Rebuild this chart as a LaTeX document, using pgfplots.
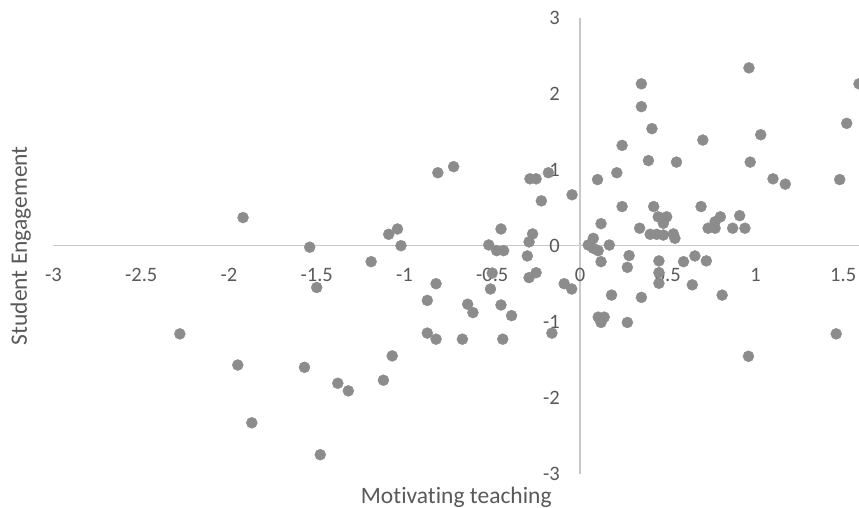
\documentclass[border=0pt]{standalone}
\usepackage{pgfplots}
\pgfplotsset{compat=1.18}
\usepackage{fontspec}
\setmainfont{Carlito}[Ligatures=NoCommon]
\definecolor{axisgray}{RGB}{200,200,200}
\definecolor{txtgray}{RGB}{89,89,89}
\definecolor{markgray}{RGB}{140,140,140}
\begin{document}
\begin{tikzpicture}
\begin{axis}[
  scale only axis,
  width=805.5pt, height=456pt,
  xmin=-3, xmax=1.59, ymin=-3, ymax=3,
  axis lines=middle,
  axis line style={draw=axisgray, line width=1.2pt, -},
  xtick={-3,-2.5,-2,-1.5,-1,-0.5,0,0.5,1,1.5},
  ytick={-3,-2,-1,0,1,2,3},
  major tick length=0pt,
  hide obscured x ticks=false, hide obscured y ticks=false,
  /pgf/number format/assume math mode=true,
  tick label style={font=\fontsize{20.5}{24}\selectfont, text=txtgray},
  xticklabel style={anchor=north, inner sep=0pt, yshift=-22.5pt},
  yticklabel style={anchor=east, inner sep=0pt, xshift=-20pt},
  xlabel={Motivating teaching},
  ylabel={Student Engagement},
  xlabel style={at={(rel axis cs:0.5,-0.0643)}, anchor=base, inner sep=0pt, font=\fontsize{23.5}{28}\selectfont, text=txtgray},
  ylabel style={at={(rel axis cs:-0.0329,0.5)}, rotate=90, anchor=base, inner sep=0pt, font=\fontsize{23.5}{28}\selectfont, text=txtgray},
  clip=true,
]
\addplot[only marks, mark=*, mark size=5.5pt, color=markgray, mark options={draw=markgray, fill=markgray}] table {
x y
-1.92 0.37
-1.54 -0.02
-1.50 -0.55
-2.28 -1.16
-1.95 -1.57
-1.57 -1.60
-1.87 -2.33
-1.48 -2.75
-0.81 0.96
-0.72 1.04
-0.285 0.88
-0.25 0.88
-0.18 0.96
-0.22 0.59
-0.045 0.67
-1.09 0.15
-1.04 0.22
-1.02 0.00
-1.19 -0.21
-0.45 0.22
-0.52 0.01
-0.475 -0.065
-0.435 -0.065
-0.27 0.155
-0.29 0.05
-0.30 -0.135
-0.29 -0.42
-0.25 -0.355
-0.50 -0.36
-0.51 -0.57
-0.82 -0.50
-0.87 -0.72
-0.64 -0.77
-0.61 -0.88
-0.45 -0.78
-0.39 -0.92
-0.87 -1.15
-0.82 -1.23
-0.67 -1.23
-0.44 -1.23
-0.16 -1.15
-0.09 -0.50
-0.047 -0.57
-1.07 -1.45
-1.12 -1.77
-1.38 -1.81
-1.32 -1.91
0.963 2.34
1.59 2.13
0.35 2.13
0.35 1.83
0.41 1.54
0.24 1.32
0.70 1.39
1.03 1.46
1.52 1.61
0.39 1.12
0.55 1.10
0.97 1.10
0.21 0.96
0.10 0.87
1.10 0.88
1.17 0.81
1.48 0.87
0.24 0.515
0.42 0.515
0.69 0.515
0.12 0.29
0.34 0.23
0.446 0.38
0.494 0.38
0.475 0.295
0.40 0.15
0.437 0.15
0.475 0.14
0.532 0.155
0.541 0.097
0.80 0.38
0.77 0.315
0.73 0.23
0.77 0.23
0.91 0.395
0.87 0.23
0.94 0.23
0.076 0.097
0.047 0.009
0.076 -0.034
0.104 -0.066
0.167 0.009
0.12 -0.21
0.28 -0.13
0.27 -0.285
0.45 -0.20
0.45 -0.355
0.45 -0.495
0.59 -0.21
0.655 -0.135
0.72 -0.20
0.64 -0.515
0.81 -0.65
0.18 -0.65
0.35 -0.68
0.104 -0.94
0.138 -0.94
0.12 -1.01
0.27 -1.01
1.46 -1.16
0.96 -1.455
};
\coordinate (SW) at (rel axis cs:0,0);
\coordinate (NE) at (rel axis cs:1,1);
\end{axis}
\pgfresetboundingbox
\path[use as bounding box] ([xshift=-53.5pt,yshift=-34.3pt]SW) rectangle ([yshift=17.7pt]NE);
\end{tikzpicture}
\end{document}
